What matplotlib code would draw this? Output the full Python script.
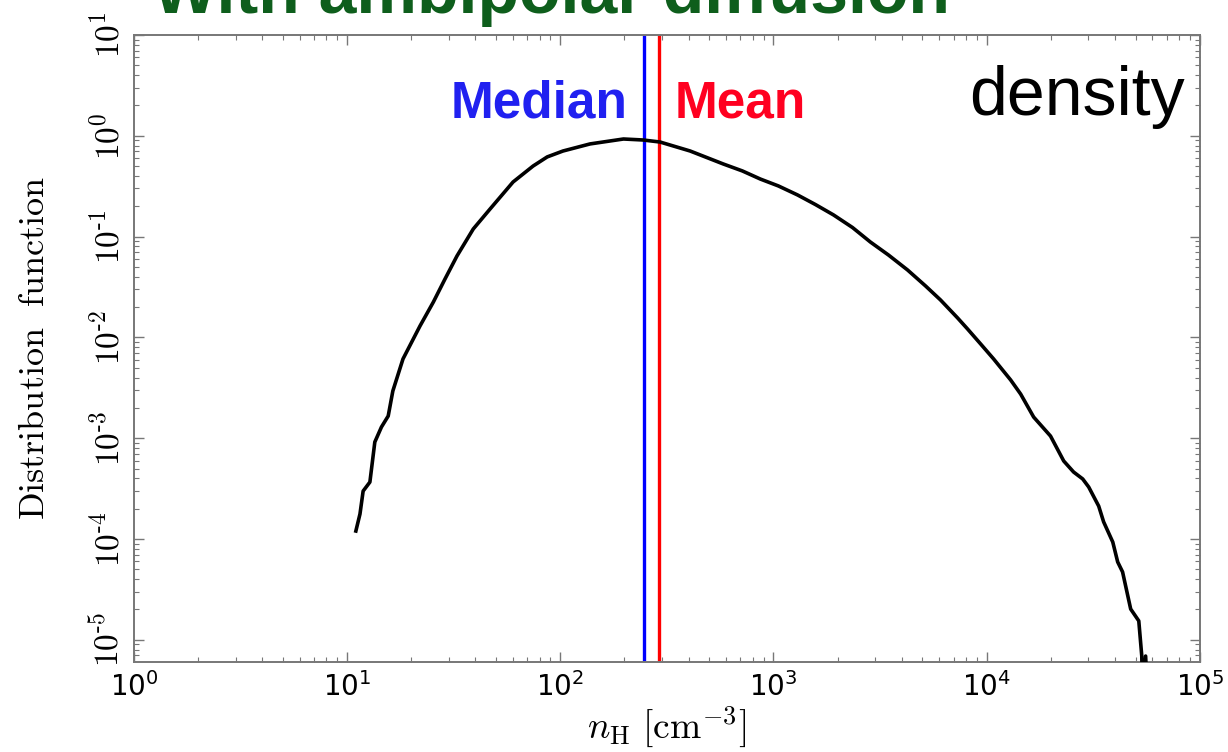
import matplotlib
matplotlib.use("Agg")
import matplotlib.pyplot as plt
from matplotlib.ticker import LogLocator, NullFormatter

# density PDF
n_h = [11.0, 11.5, 11.9, 12.8, 13.5, 14.5, 15.6, 16.4, 18.3, 22.0,
       25.4, 28.8, 32.8, 39.1, 46.9, 60.1, 74.6, 86.9, 103, 138,
       198, 245, 294, 407, 582, 715, 869, 1055, 1297, 1574,
       1914, 2350, 2851, 3467, 4256, 5171, 6081, 7310, 8147, 9376,
       10790, 12970, 14450, 16630, 19950, 23010, 25590, 28250, 30130, 33570,
       35400, 39080, 41210, 43450, 47420, 51760, 53460, 53950, 55720, 57020]
pdf = [1.20e-4, 1.77e-4, 2.99e-4, 3.67e-4, 9.16e-4, 1.29e-3, 1.66e-3, 2.94e-3, 6.11e-3, 1.30e-2,
       2.24e-2, 3.79e-2, 6.43e-2, 0.119, 0.188, 0.348, 0.501, 0.617, 0.706, 0.830,
       0.929, 0.908, 0.867, 0.706, 0.525, 0.448, 0.372, 0.318, 0.259, 0.208,
       0.164, 0.123, 0.0883, 0.0656, 0.0467, 0.0324, 0.0235, 0.0156, 0.0121, 8.61e-3,
       6.11e-3, 3.78e-3, 2.74e-3, 1.62e-3, 1.05e-3, 5.94e-4, 4.62e-4, 3.94e-4, 3.28e-4, 2.12e-4,
       1.48e-4, 9.33e-5, 5.92e-5, 4.71e-5, 2.02e-5, 1.54e-5, 6.9e-6, 2.6e-6, 6.9e-6, 2.6e-6]

median_nh = 248.0
mean_nh = 292.0

x_exponents = [0, 1, 2, 3, 4, 5]
y_exponents = [-5, -4, -3, -2, -1, 0, 1]


def ytick_text(e):
    # short hyphen in the exponent, as in the old-style labels
    if e < 0:
        return r"$\mathrm{10^{\text{-}%d}}$" % -e
    return r"$\mathrm{10^{%d}}$" % e


fig = plt.figure(figsize=(12.28, 7.52), dpi=100)
ax = fig.add_axes([0.109, 0.1197, 0.868, 0.8338])

ax.plot(n_h, pdf, color="black", lw=2.6, zorder=3)
ax.axvline(median_nh, color="#0000ff", lw=2.4, zorder=2)
ax.axvline(mean_nh, color="#ff0000", lw=2.4, zorder=2)

ax.set_xscale("log")
ax.set_yscale("log")
ax.set_xlim(1, 1e5)
ax.set_ylim(10 ** -5.22, 10)

for s in ax.spines.values():
    s.set_color("#777777")
    s.set_linewidth(1.4)

ax.tick_params(which="both", direction="in", top=True, right=True, color="#777777")
ax.tick_params(which="major", length=7, width=1.0)
ax.tick_params(which="minor", length=3.5, width=0.8)

ax.set_xticks([10.0 ** e for e in x_exponents],
              [r"$10^{%d}$" % e for e in x_exponents], fontsize=20)
ax.xaxis.set_minor_locator(LogLocator(base=10, subs=range(2, 10), numticks=20))
ax.xaxis.set_minor_formatter(NullFormatter())
ax.tick_params(axis="x", pad=7)

ax.set_yticks([10.0 ** e for e in y_exponents],
              [ytick_text(e) for e in y_exponents],
              fontsize=24, rotation=90, va="center")
for t in ax.get_yticklabels():
    t.set_math_fontfamily("cm")
ax.yaxis.set_minor_locator(LogLocator(base=10, subs=range(2, 10), numticks=20))
ax.yaxis.set_minor_formatter(NullFormatter())
ax.tick_params(axis="y", pad=6)

ax.set_ylabel(r"$\mathrm{Distribution\ \ function}$", fontsize=26,
              math_fontfamily="cm", labelpad=28)
ax.set_xlabel(r"$n_{\rm H}\ [{\rm cm}^{-3}]$", fontsize=27,
              math_fontfamily="cm", labelpad=2)

ax.text(0.4634, 0.869, "Median", transform=ax.transAxes, ha="right", va="baseline",
        fontsize=37, fontweight="bold", family="Liberation Sans", color="#2020f0")
ax.text(0.5075, 0.869, "Mean", transform=ax.transAxes, ha="left", va="baseline",
        fontsize=37, fontweight="bold", family="Liberation Sans", color="#ff0020")
ax.text(0.986, 0.872, "density", transform=ax.transAxes, ha="right", va="baseline",
        fontsize=49, family="Liberation Sans", color="black")

fig.text(0.1246, 0.983, "With ambipolar diffusion", ha="left", va="baseline",
         fontsize=49, fontweight="bold", family="Liberation Sans", color="#0e5e1c")

fig.savefig("out.png", dpi=100)
